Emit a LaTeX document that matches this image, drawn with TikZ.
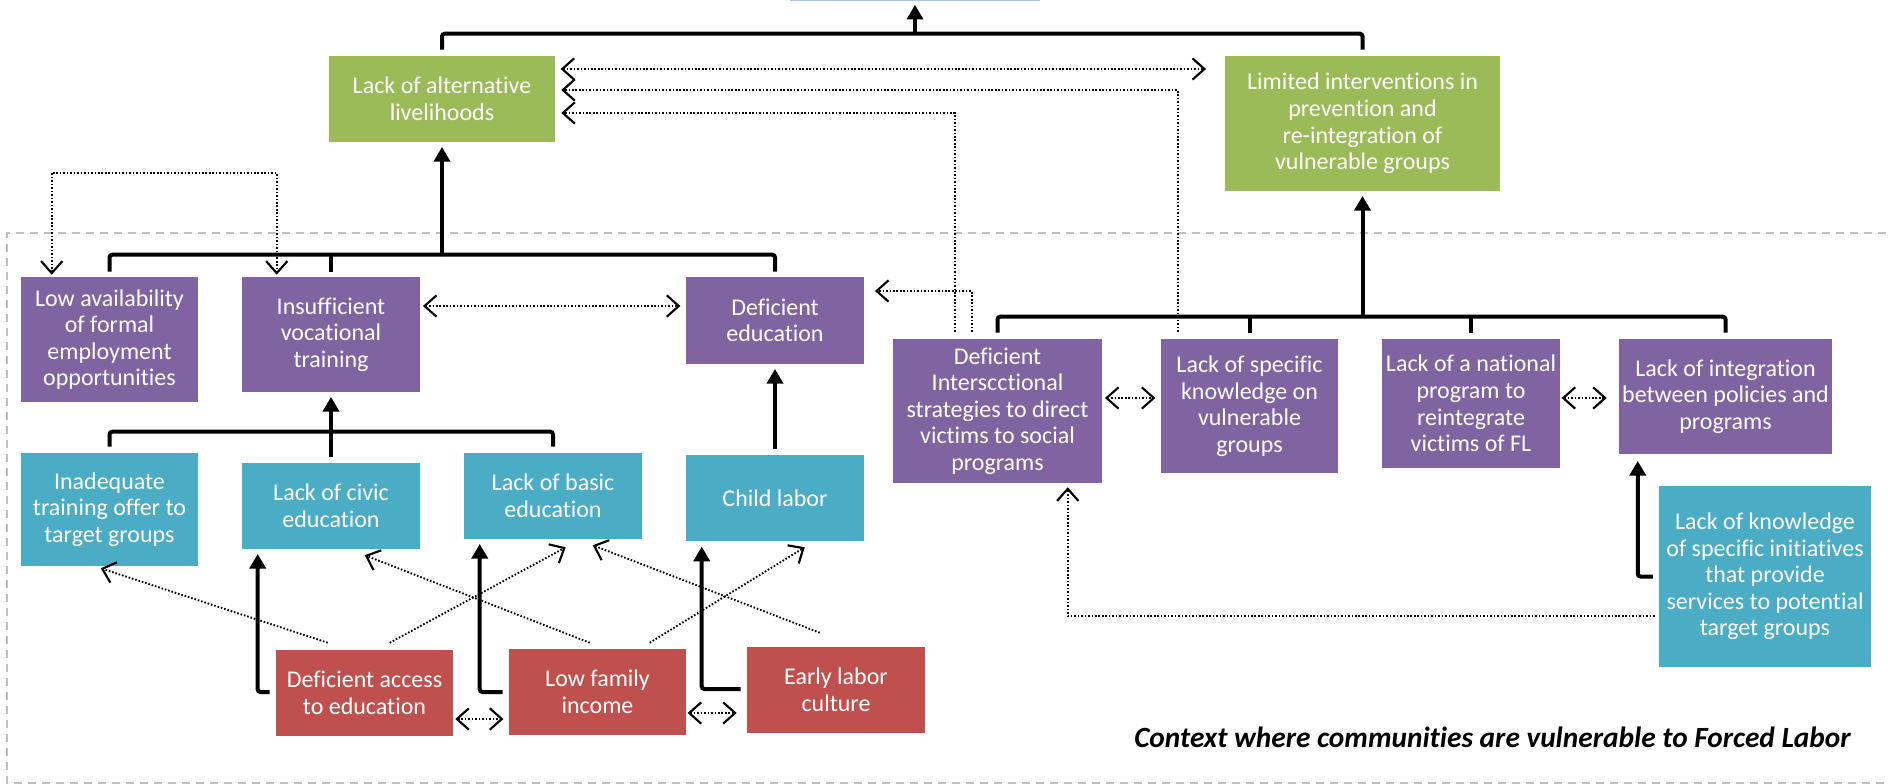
\documentclass[tikz,border=0pt]{standalone}
\usepackage{fontspec}
\setmainfont{Carlito}[Ligatures=NoCommon]
\usetikzlibrary{arrows.meta,calc}
\definecolor{cgreen}{HTML}{9BBB59}
\definecolor{cpurple}{HTML}{8064A2}
\definecolor{cteal}{HTML}{4BACC6}
\definecolor{cred}{HTML}{C0504D}
\definecolor{topblue}{HTML}{A9C6EA}
\definecolor{framegray}{HTML}{BFBFBF}
\newcommand\bx[7]{\node[box,fill=#6,minimum width={(#4-#2)*0.75pt},minimum height={(#5-#3)*0.75pt}] (#1) at ({(#2+#4)/2},{(#3+#5)/2}) {#7};}
\begin{document}
\begin{tikzpicture}[x=0.75pt,y=-0.75pt,
 box/.style={inner sep=0pt, align=center, text=white, font=\fontsize{18}{19.9}\selectfont},
 bar/.style={line width=3pt, rounded corners=2pt},
 tharrow/.style={line width=3pt, rounded corners=2pt, -{Triangle[length=11pt,width=12pt]}},
 dotline/.style={line width=1.4pt, dash pattern=on 1.2pt off 1.4pt},
 dotarrow/.style={dotline, -{Straight Barb[length=9pt,width=16pt,line width=1.6pt]}},
 dotboth/.style={dotline, {Straight Barb[length=9pt,width=16pt,line width=1.6pt]}-{Straight Barb[length=9pt,width=16pt,line width=1.6pt]}},
 ctxframe/.style={draw=framegray, line width=1.5pt, dash pattern=on 6pt off 4.5pt}
]
\useasboundingbox (0,0) rectangle (1888,784);
% context frame
\draw[ctxframe] (1900,233) -- (7,233) -- (7,783) -- (1900,783);
% top target (mostly outside the picture)
\node[draw=topblue, fill=white, line width=1pt, minimum width={248*0.75pt}, minimum height={60*0.75pt}, anchor=south, inner sep=0pt] (top) at (915,1.5) {};
% green
\bx{g1}{329}{56}{555}{142}{cgreen}{Lack of alternative\\livelihoods}
\bx{g2}{1225}{56}{1500}{191}{cgreen}{Limited interventions in\\prevention and\\re-integration of\\vulnerable groups}
% purple
\bx{p1}{21}{277}{198}{402}{cpurple}{Low availability\\of formal\\employment\\opportunities}
\bx{p2}{242}{277}{420}{392}{cpurple}{Insufficient\\vocational\\training}
\bx{p3}{686}{277}{864}{364}{cpurple}{Deficient\\education}
\bx{p4}{893}{339}{1102}{483}{cpurple}{Deficient\\Interscctional\\strategies to direct\\victims to social\\programs}
\bx{p5}{1161}{339}{1338}{473}{cpurple}{Lack of specific\\knowledge on\\vulnerable\\groups}
\bx{p6}{1382}{339}{1560}{468}{cpurple}{Lack of a national\\program to\\reintegrate\\victims of FL}
\bx{p7}{1619}{339}{1832}{454}{cpurple}{Lack of integration\\between policies and\\programs}
% teal
\bx{t1}{21}{453}{198}{566}{cteal}{Inadequate\\training offer to\\target groups}
\bx{t2}{242}{463}{420}{549}{cteal}{Lack of civic\\education}
\bx{t3}{464}{453}{642}{539}{cteal}{Lack of basic\\education}
\bx{t4}{686}{455}{864}{541}{cteal}{Child labor}
\bx{t5}{1659}{486}{1871}{667}{cteal}{Lack of knowledge\\of specific initiatives\\that provide\\services to potential\\target groups}
% red
\bx{r1}{276}{650}{453}{736}{cred}{Deficient access\\to education}
\bx{r2}{509}{649}{686}{735}{cred}{Low family\\income}
\bx{r3}{747}{647}{925}{733}{cred}{Early labor\\culture}
% context label
\node[anchor=east, inner sep=0pt, font=\fontsize{22}{26}\selectfont\bfseries\itshape] (ctx) at (1851,737) {Context where communities are vulnerable to Forced Labor};

% ---- top bracket
\draw[bar] ($(g1.north)+(0,-6)$) -- ($(g1.north)+(0,-22)$) -| ($(g2.north)+(0,-6)$);
\draw[tharrow, shorten >=2.5pt] ($(top.south)+(0,33)$) -- (top.south);

% ---- dotted links at top
\draw[dotboth, shorten <=4pt, shorten >=14pt] (g1.east |- 0,69) -- (g2.west |- 0,69);
\draw[dotarrow, shorten >=4.5pt] ($(p5.north west)+(17,-7)$) |- (g1.east |- 0,90);
\draw[dotarrow, shorten >=4.5pt] ($(p4.north west)+(62,-7)$) |- (g1.east |- 0,113);
\draw[dotarrow, shorten >=8pt] ($(p4.north west)+(79,-7)$) |- (p3.east |- 0,291);
\draw[dotboth] ($(p1.north west)+(31,-2)$) -- ++(0,-102) -| ($(p2.north west)+(35,-2)$);

% ---- middle-left bracket
\draw[bar] ($(p1.north)+(0,-5)$) |- ($(p3.north)+(0,-22)$) -- ($(p3.north)+(0,-5)$);
\draw[bar] ($(p2.north)+(0,-5)$) -- ($(p2.north)+(0,-23)$);
\draw[tharrow, shorten >=3.5pt] ($(g1.south)+(0,114)$) -- (g1.south);

% ---- teal bracket
\draw[bar] ($(t1.north)+(0,-6)$) |- ($(t3.north)+(0,-21)$) -- ($(t3.north)+(0,-6)$);
\draw[tharrow, shorten >=3.5pt] ($(t2.north)+(0,-6)$) -- (p2.south);
\draw[tharrow, shorten >=3.5pt] ($(t4.north)+(0,-6)$) -- (p3.south);

% ---- right bracket
\draw[bar] ($(p4.north)+(0,-6)$) |- ($(p7.north)+(0,-22)$) -- ($(p7.north)+(0,-6)$);
\draw[bar] ($(p5.north)+(0,-6)$) -- ($(p5.north)+(0,-23)$);
\draw[bar] ($(p6.north)+(0,-6)$) -- ($(p6.north)+(0,-23)$);
\draw[tharrow, shorten >=3.5pt] ($(g2.south)+(0,127)$) -- (g2.south);

% ---- small double arrows
\draw[dotboth, shorten <=2pt, shorten >=4pt] (p2.east |- 0,306) -- (p3.west |- 0,306);
\draw[dotboth, shorten <=2pt, shorten >=4pt] (p4.east |- 0,398) -- (p5.west |- 0,398);
\draw[dotboth, shorten <=1pt, shorten >=9pt] (p6.east |- 0,398) -- (p7.west |- 0,398);
\draw[dotboth, shorten <=1.5pt, shorten >=4pt] (r1.east |- 0,719) -- (r2.west |- 0,719);
\draw[dotboth, shorten <=1pt, shorten >=7.5pt] (r2.east |- 0,713) -- (r3.west |- 0,713);

% ---- red thick elbows
\draw[tharrow, shorten >=3.5pt] ($(r1.west)+(-6,-1)$) -| ($(t2.south west)+(16,0)$);
\draw[tharrow, shorten >=3.5pt] ($(r2.west)+(-6,0)$) -| ($(t3.south west)+(16,0)$);
\draw[tharrow, shorten >=4pt] ($(r3.west)+(-6,-1)$) -| ($(t4.south west)+(16,0)$);
\draw[tharrow, shorten >=5pt] ($(t5.west)+(-6,0)$) -| ($(p7.south west)+(19,0)$);

% ---- dotted from t5 to p4
\draw[dotarrow, shorten >=3pt] ($(t5.west |- 0,616)+(-4,0)$) -| ($(p4.south west)+(175,0)$);

% ---- diagonal dotted
\draw[dotarrow] ($(r1.north west)+(52,-7)$) -- ($(t1.south west)+(80,2)$);
\draw[dotarrow] ($(r1.north west)+(114,-7)$) -- ($(t3.south west)+(102,8)$);
\draw[dotarrow] ($(r2.north west)+(81,-6)$) -- ($(t2.south west)+(123,6)$);
\draw[dotarrow] ($(r2.north west)+(141,-6)$) -- ($(t4.south west)+(119,6)$);
\draw[dotarrow] ($(r3.north west)+(73,-14)$) -- ($(t3.south west)+(129,6)$);
\end{tikzpicture}
\end{document}
